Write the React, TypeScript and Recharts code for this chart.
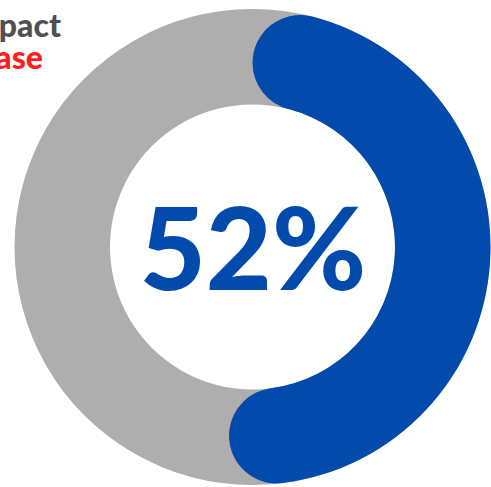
import React from "react";
import { PieChart, Pie, Cell } from "recharts";

const segments = ["Impact", "Remainder"];
const shareValues = [52, 48];
const ringValues = [100];
const centerLabel = "52%";
const headerLines = ["pact", "ase"];

const progressData = segments.map((name, i) => ({ name, value: shareValues[i] }));
const ringData = ringValues.map((value) => ({ name: "ring", value }));

const BLUE = "#024BAC";
const GRAY = "#AEAEAE";

export default function App() {
  return (
    <div style={{ position: "fixed", left: 0, top: 0, width: 491, height: 487, background: "#fff" }}>
      <PieChart width={491} height={487} margin={{ top: 0, right: 0, bottom: 0, left: 0 }}>
        <Pie
          data={ringData}
          dataKey="value"
          cx={252.5}
          cy={247}
          innerRadius={142.5}
          outerRadius={238}
          startAngle={90}
          endAngle={-270}
          stroke="none"
          fill={GRAY}
          isAnimationActive={false}
        />
        <Pie
          data={progressData}
          dataKey="value"
          cx={252.5}
          cy={247}
          innerRadius={142.5}
          outerRadius={238}
          startAngle={90}
          endAngle={-270}
          cornerRadius={47.7}
          stroke="none"
          isAnimationActive={false}
        >
          {progressData.map((d, i) => (
            <Cell key={d.name} fill={i === 0 ? BLUE : "transparent"} />
          ))}
        </Pie>
        <text
          x={253}
          y={290}
          textAnchor="middle"
          fontFamily="Lato"
          fontWeight={900}
          fontSize={114}
          fill={BLUE}
        >
          {centerLabel}
        </text>
        <text x={61} y={37} textAnchor="end" fontFamily="Lato" fontWeight={900} fontSize={32} fill="#505052">
          {headerLines[0]}
        </text>
        <text x={43} y={69} textAnchor="end" fontFamily="Lato" fontWeight={900} fontSize={32} fill="#FF1E1E">
          {headerLines[1]}
        </text>
      </PieChart>
    </div>
  );
}
